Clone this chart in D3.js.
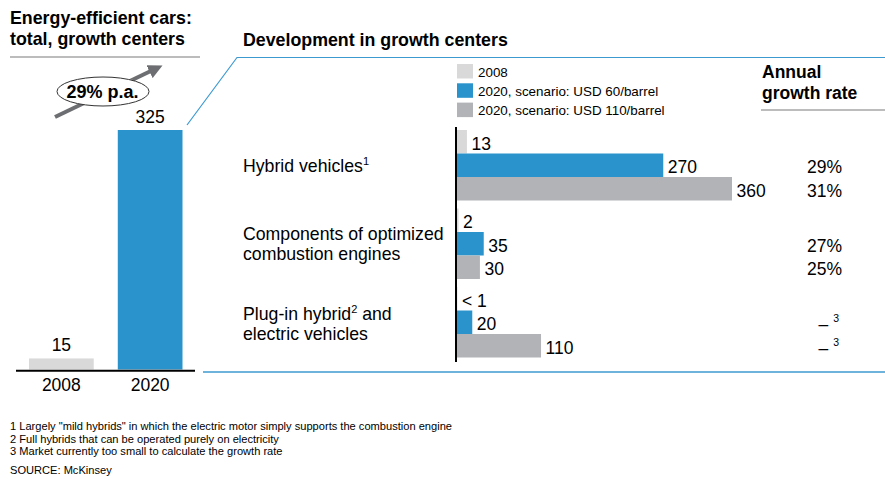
<!DOCTYPE html>
<html>
<head>
<meta charset="utf-8">
<script src="https://cdn.jsdelivr.net/npm/d3@7"></script>
<style>
  html, body { margin: 0; padding: 0; background: #fff; }
  svg { display: block; font-family: "Liberation Sans", Arial, Helvetica, sans-serif; }
</style>
</head>
<body>
<svg id="chart" width="885" height="479"></svg>
<script>
// ---- Data ----
const totalYears = ["2008", "2020"];
const totalValues = [15, 325];
const totalGrowth = "29% p.a.";

const categories = ["Hybrid vehicles", "Components of optimized combustion engines", "Plug-in hybrid and electric vehicles"];
const seriesNames = ["2008", "2020, scenario: USD 60/barrel", "2020, scenario: USD 110/barrel"];
const values2008 = [13, 2, 0.5];
const labels2008 = ["13", "2", "< 1"];
const values60 = [270, 35, 20];
const values110 = [360, 30, 110];
const growth60 = ["29%", "27%", "–"];
const growth110 = ["31%", "25%", "–"];
const growthNote = [null, null, "3"];

const footnotes = [
  "1 Largely \"mild hybrids\" in which the electric motor simply supports the combustion engine",
  "2 Full hybrids that can be operated purely on electricity",
  "3 Market currently too small to calculate the growth rate"
];
const source = "SOURCE: McKinsey";

// ---- Styles ----
const colors = ["#d9d9da", "#2a93cc", "#b2b3b6"];
const blueLine = "#3d9ad1";
const FS = 17.5;       // body text
const FT = 17.8;       // bold titles
const svg = d3.select("#chart");

// ---- Left panel ----
svg.append("text").attr("x", 10).attr("y", 24).attr("font-size", FT).attr("font-weight", "bold")
  .text("Energy-efficient cars:");
svg.append("text").attr("x", 10).attr("y", 45).attr("font-size", FT).attr("font-weight", "bold")
  .text("total, growth centers");
svg.append("line").attr("x1", 10).attr("x2", 200).attr("y1", 57).attr("y2", 57)
  .attr("stroke", "#a6a6a6").attr("stroke-width", 1.5);

const xL = d3.scaleBand().domain(totalYears).range([29, 182.5]).paddingInner(0.271).paddingOuter(0);
const yL = d3.scaleLinear().domain([0, 325]).range([369.5, 130]);

svg.selectAll(".lbar").data(totalValues).join("rect")
  .attr("x", (d, i) => xL(totalYears[i]))
  .attr("width", xL.bandwidth())
  .attr("y", d => yL(d))
  .attr("height", d => yL(0) - yL(d))
  .attr("fill", (d, i) => i === 0 ? colors[0] : colors[1]);

svg.selectAll(".lval").data(totalValues).join("text")
  .attr("x", (d, i) => xL(totalYears[i]) + xL.bandwidth() / 2)
  .attr("y", d => yL(d) - 7.5)
  .attr("text-anchor", "middle").attr("font-size", FS)
  .text(d => d);

const xAxisL = d3.axisBottom(xL).tickSize(0).tickPadding(8);
const gx = svg.append("g").attr("transform", `translate(0,${yL(0) + 1})`).call(xAxisL);
gx.select(".domain").remove();
gx.selectAll("text").attr("font-size", FS).attr("font-family", "Liberation Sans, Arial, sans-serif").attr("fill", "#000");
svg.append("line").attr("x1", 16).attr("x2", 195).attr("y1", yL(0) + 1.2).attr("y2", yL(0) + 1.2)
  .attr("stroke", "#000").attr("stroke-width", 2);

// growth arrow
const defs = svg.append("defs");
defs.append("marker").attr("id", "ah").attr("viewBox", "0 0 10 10").attr("refX", 5).attr("refY", 5)
  .attr("markerWidth", 3.6).attr("markerHeight", 3.6).attr("orient", "auto")
  .append("path").attr("d", "M0,0 L10,5 L0,10 z").attr("fill", "#6d6e71");
svg.append("line").attr("x1", 55).attr("y1", 117).attr("x2", 156).attr("y2", 68.5)
  .attr("stroke", "#6d6e71").attr("stroke-width", 4).attr("marker-end", "url(#ah)");
svg.append("ellipse").attr("cx", 103).attr("cy", 91.5).attr("rx", 46).attr("ry", 14.5)
  .attr("fill", "#fff").attr("stroke", "#333").attr("stroke-width", 1);
svg.append("text").attr("x", 102.5).attr("y", 97.5).attr("text-anchor", "middle")
  .attr("font-size", 18).attr("font-weight", "bold").text(totalGrowth);

// ---- Right panel ----
svg.append("text").attr("x", 243).attr("y", 46).attr("font-size", FT).attr("font-weight", "bold")
  .text("Development in growth centers");
svg.append("polyline")
  .attr("points", "187,125 237,57.5 885,57.5")
  .attr("fill", "none").attr("stroke", blueLine).attr("stroke-width", 1.2);
svg.append("line").attr("x1", 203).attr("x2", 885).attr("y1", 372).attr("y2", 372)
  .attr("stroke", blueLine).attr("stroke-width", 1.5);

// legend
seriesNames.forEach((s, i) => {
  svg.append("rect").attr("x", 457).attr("y", 64 + i * 19.3).attr("width", 16).attr("height", 14.5)
    .attr("fill", colors[i]);
  svg.append("text").attr("x", 478).attr("y", 76.5 + i * 19.3).attr("font-size", 13.4).text(s);
});

svg.append("text").attr("x", 762).attr("y", 78).attr("font-size", FS).attr("font-weight", "bold").text("Annual");
svg.append("text").attr("x", 762).attr("y", 99).attr("font-size", FS).attr("font-weight", "bold").text("growth rate");
svg.append("line").attr("x1", 761).attr("x2", 885).attr("y1", 110).attr("y2", 110)
  .attr("stroke", "#a6a6a6").attr("stroke-width", 1.5);

// scales
const x = d3.scaleLinear().domain([0, 360]).range([457, 732]);
const yG = d3.scaleBand().domain(categories).range([130, 357.5]).paddingInner(8 / 78.5).paddingOuter(0);
const yS = d3.scaleBand().domain(seriesNames).range([0, yG.bandwidth()]);

const rows = [];
categories.forEach((c, ci) => {
  rows.push({ c, s: seriesNames[0], v: values2008[ci], label: labels2008[ci], g: null, note: null, col: colors[0] });
  rows.push({ c, s: seriesNames[1], v: values60[ci], label: String(values60[ci]), g: growth60[ci], note: growthNote[ci], col: colors[1] });
  rows.push({ c, s: seriesNames[2], v: values110[ci], label: String(values110[ci]), g: growth110[ci], note: growthNote[ci], col: colors[2] });
});

svg.selectAll(".hbar").data(rows).join("rect")
  .attr("x", x(0))
  .attr("y", d => yG(d.c) + yS(d.s))
  .attr("width", d => x(d.v) - x(0))
  .attr("height", yS.bandwidth())
  .attr("fill", d => d.col);

svg.selectAll(".hval").data(rows).join("text")
  .attr("x", d => x(d.v) + 4.5)
  .attr("y", d => yG(d.c) + yS(d.s) + yS.bandwidth() / 2 + 8)
  .attr("font-size", FS)
  .text(d => d.label);

// growth column
rows.filter(d => d.g).forEach(d => {
  const yy = yG(d.c) + yS(d.s) + yS.bandwidth() / 2 + 8;
  if (d.note) {
    const t = svg.append("text").attr("x", 839).attr("y", yy).attr("text-anchor", "end").attr("font-size", FS);
    t.append("tspan").text(d.g);
    t.append("tspan").attr("dx", 5).attr("dy", -8).attr("font-size", 10.5).text(d.note);
  } else {
    svg.append("text").attr("x", 842).attr("y", yy).attr("text-anchor", "end").attr("font-size", FS).text(d.g);
  }
});

// axis
svg.append("line").attr("x1", x(0) - 1).attr("x2", x(0) - 1).attr("y1", 127).attr("y2", 362)
  .attr("stroke", "#000").attr("stroke-width", 2);

// category labels
const FC = 17.7;
const cl0 = svg.append("text").attr("x", 243).attr("y", 171.5).attr("font-size", FC);
cl0.append("tspan").text("Hybrid vehicles");
cl0.append("tspan").attr("dy", -7).attr("font-size", 11).text("1");
svg.append("text").attr("x", 243).attr("y", 240).attr("font-size", FC).text("Components of optimized");
svg.append("text").attr("x", 243).attr("y", 260).attr("font-size", FC).text("combustion engines");
const cl2 = svg.append("text").attr("x", 243).attr("y", 319.5).attr("font-size", FC);
cl2.append("tspan").text("Plug-in hybrid");
cl2.append("tspan").attr("dy", -7).attr("font-size", 11).text("2");
cl2.append("tspan").attr("dy", 7).text(" and");
svg.append("text").attr("x", 243).attr("y", 339.5).attr("font-size", FC).text("electric vehicles");

// footnotes
footnotes.forEach((f, i) => {
  svg.append("text").attr("x", 10).attr("y", 430 + i * 12.7).attr("font-size", 11.1).text(f);
});
svg.append("text").attr("x", 10).attr("y", 474).attr("font-size", 11.1).text(source);
</script>
</body>
</html>
